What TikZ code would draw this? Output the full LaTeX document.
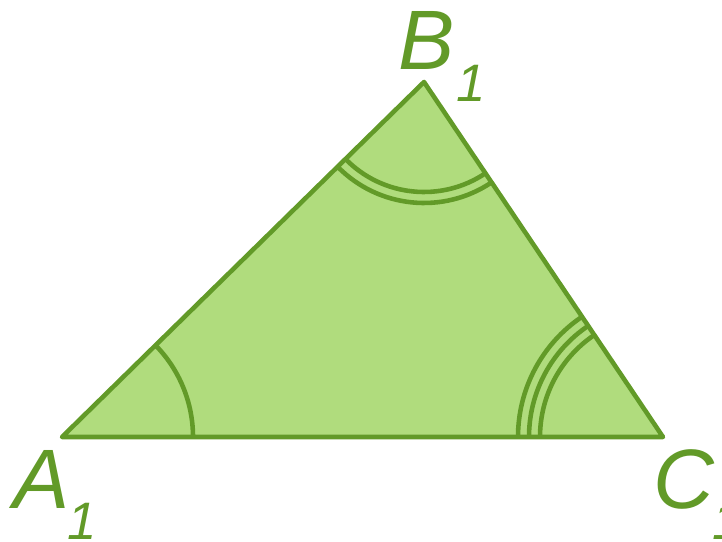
\documentclass[tikz,border=0pt]{standalone}
\usepackage{fontspec}
\setmainfont{Liberation Sans}
\definecolor{edgecolor}{RGB}{98,154,40}
\definecolor{facecolor}{RGB}{176,220,125}
\usetikzlibrary{positioning}

\begin{document}
\begin{tikzpicture}[x=0.02cm, y=0.02cm,
          tri/.style={draw=edgecolor, fill=facecolor, line width=2.6pt,
                      line join=round},
          anglearc/.style={draw=edgecolor, line width=2.6pt},
          lbl/.style={text=edgecolor, inner sep=0pt, anchor=base west,
                      font=\fontsize{48}{48}\selectfont\itshape}
        ]
          \useasboundingbox (0,0) rectangle (722,541);
          \coordinate (A) at (62,104);
          \coordinate (B) at (424,459);
          \coordinate (C) at (663,104);
          \draw[tri] (A) -- (B) -- (C) -- cycle;
          \draw[anglearc] ([shift={(0:131)}]A) arc[start angle=0, end angle=44.4, radius=131];
          \draw[anglearc] ([shift={(224.4:110)}]B) arc[start angle=224.4, end angle=303.95, radius=110];
          \draw[anglearc] ([shift={(224.4:121)}]B) arc[start angle=224.4, end angle=303.95, radius=121];
          \draw[anglearc] ([shift={(123.95:123)}]C) arc[start angle=123.95, end angle=180, radius=123];
          \draw[anglearc] ([shift={(123.95:134)}]C) arc[start angle=123.95, end angle=180, radius=134];
          \draw[anglearc] ([shift={(123.95:145)}]C) arc[start angle=123.95, end angle=180, radius=145];
          \node[lbl] (lA) at (13,33) {A\kern-1pt\raisebox{-18pt}{\fontsize{30}{30}\selectfont 1}};
          \node[lbl] (lB) at (398,471) {B\kern1pt\raisebox{-18pt}{\fontsize{30}{30}\selectfont 1}};
          \node[lbl] (lC) at (653,33) {C\kern-1pt\raisebox{-18pt}{\fontsize{30}{30}\selectfont 1}};
        \end{tikzpicture}
\end{document}
